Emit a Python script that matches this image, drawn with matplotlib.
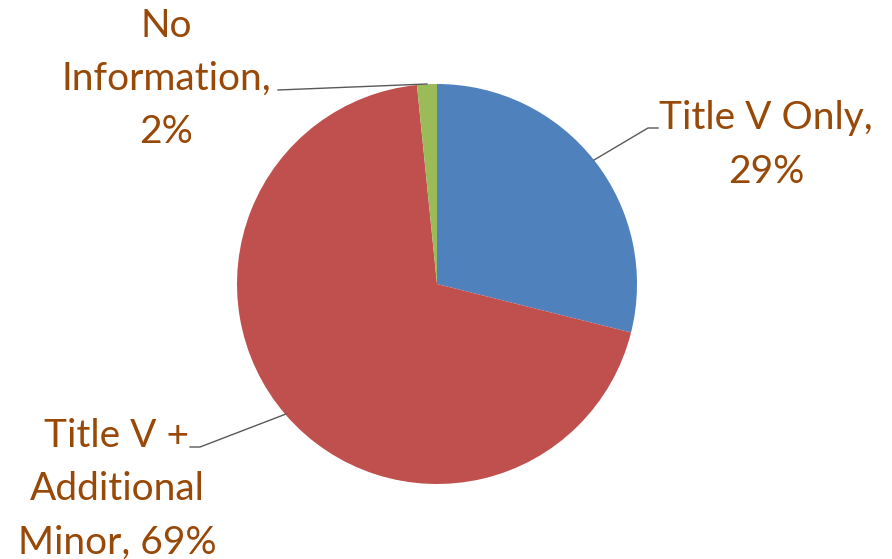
import numpy as np
import matplotlib.pyplot as plt

labels = ["Title V Only", "Title V +\nAdditional\nMinor", "No\nInformation"]
shares = [28.9, 69.5, 1.6]
pct_text = ["29%", "69%", "2%"]
colors = ["#4F81BD", "#C0504D", "#9BBB59"]
text_color = "#984807"

W, H = 892, 559
fig = plt.figure(figsize=(W / 100, H / 100), dpi=100)
# pie centre ~ (437, 284) px, radius ~200 px
cx, cy, r = 437, 284, 200
ax = fig.add_axes([(cx - r) / W, (H - cy - r) / H, 2 * r / W, 2 * r / H])

wedges, _ = ax.pie(shares, colors=colors, startangle=90, counterclock=False,
                   radius=1, wedgeprops=dict(linewidth=0))
ax.set_xlim(-1, 1)
ax.set_ylim(-1, 1)
ax.set_aspect("equal")
ax.axis("off")

# label text positions (figure px) and where leaders attach on the text side
label_txt = [labels[0] + ",\n" + pct_text[0],
             labels[1] + ", " + pct_text[1],
             labels[2] + ",\n" + pct_text[2]]
text_pos = [(766, 145), (117, 489), (166, 79)]
leader_from = [(658, 128), (190, 447), (278, 90)]
leader_to = [(594, 160), (286, 414), (427, 84)]
knee = [(648, 128), (200, 447), None]

def px(p):
    return ((p[0] - cx) / r, (cy - p[1]) / r)

for i, t in enumerate(label_txt):
    x, y = px(text_pos[i])
    ax.text(x, y, t, ha="center", va="center", color=text_color,
            fontsize=28, family="Lato", linespacing=1.6, clip_on=False)
    pts = [leader_from[i]] + ([knee[i]] if knee[i] else []) + [leader_to[i]]
    xs, ys = zip(*[px(p) for p in pts])
    ax.plot(xs, ys, color="#595959", lw=1, clip_on=False)

fig.savefig("out.png", dpi=100)
